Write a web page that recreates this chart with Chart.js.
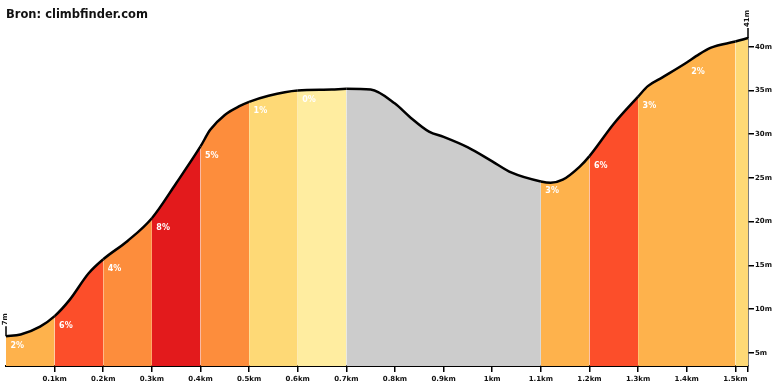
<!DOCTYPE html>
<html>
<head>
<meta charset="utf-8">
<script src="https://cdn.jsdelivr.net/npm/chart.js@4/dist/chart.umd.min.js"></script>
<style>
  html, body { margin: 0; padding: 0; background: #fff; }
  #wrap { width: 780px; height: 390px; }
</style>
</head>
<body>
<div id="wrap"><canvas id="profileChart"></canvas></div>
<script>
// distance (km) and elevation (m) along the climb
const distKm = [0, 0.03, 0.07, 0.1, 0.13, 0.17, 0.2, 0.25, 0.3, 0.35, 0.4, 0.42, 0.45, 0.48, 0.5, 0.54,
  0.6, 0.67, 0.7, 0.75, 0.8, 0.83, 0.87, 0.9, 0.95, 1.0, 1.04, 1.1, 1.12, 1.145, 1.18, 1.2, 1.25,
  1.3, 1.32, 1.35, 1.4, 1.42, 1.45, 1.5, 1.526];
const elevM = [6.9, 7.1, 8.0, 9.2, 11.0, 14.1, 15.7, 17.8, 20.4, 24.4, 28.6, 30.5, 32.2, 33.2, 33.7, 34.4,
  35.0, 35.1, 35.2, 35.1, 33.5, 32.0, 30.3, 29.7, 28.5, 26.9, 25.6, 24.6, 24.45, 24.8, 26.3, 27.5, 31.2,
  34.3, 35.5, 36.5, 38.2, 38.95, 39.9, 40.6, 41.0];

// 100 m sections and their gradient labels
const sectionStart = [0, 0.1, 0.2, 0.3, 0.4, 0.5, 0.6, 0.7, 0.8, 0.9, 1.0, 1.1, 1.2, 1.3, 1.4, 1.5];
const gradeLabels = ['2%', '6%', '4%', '8%', '5%', '1%', '0%', '', '', '', '', '3%', '6%', '3%', '2%', ''];

const xTickKm = [0.1, 0.2, 0.3, 0.4, 0.5, 0.6, 0.7, 0.8, 0.9, 1.0, 1.1, 1.2, 1.3, 1.4, 1.5];
const yTickM = [5, 10, 15, 20, 25, 30, 35, 40];

// colours of the sections
const sectionColors = ['#feb24c', '#fc4e2a', '#fd8d3c', '#e31a1c', '#fd8d3c', '#fed976', '#ffeda0',
  '#cccccc', '#cccccc', '#cccccc', '#cccccc', '#feb24c', '#fc4e2a', '#feb24c', '#feb24c', '#fed976'];

const smallFont = { family: 'DejaVu Sans', size: 7, weight: 'bold' };

function sectionIndex(x) {
  let idx = 0;
  for (let i = 0; i < sectionStart.length; i++) {
    if (x + 1e-9 >= sectionStart[i]) idx = i;
  }
  return idx;
}

// white gradient labels + start/end elevation markers
const profileLabels = {
  id: 'profileLabels',
  afterDatasetsDraw(chart) {
    const ctx = chart.ctx;
    const xs = chart.scales.x;
    const ys = chart.scales.y;

    ctx.save();
    ctx.fillStyle = '#fff';
    ctx.font = 'bold 8px "DejaVu Sans"';
    ctx.textAlign = 'left';
    ctx.textBaseline = 'middle';
    sectionStart.forEach((km, i) => {
      if (!gradeLabels[i]) return;
      const j = distKm.indexOf(km);
      const px = xs.getPixelForValue(km) + 4.5;
      const py = ys.getPixelForValue(elevM[j]) + 9.5;
      ctx.fillText(gradeLabels[i], px, py);
    });

    [0, distKm.length - 1].forEach(j => {
      const px = xs.getPixelForValue(distKm[j]);
      const py = ys.getPixelForValue(elevM[j]);
      ctx.strokeStyle = '#000';
      ctx.lineWidth = 1.5;
      ctx.beginPath();
      ctx.moveTo(px, py);
      ctx.lineTo(px, py - 10);
      ctx.stroke();
      ctx.save();
      ctx.translate(px - 1, py - 11);
      ctx.rotate(-Math.PI / 2);
      ctx.fillStyle = '#111';
      ctx.font = 'bold 7px "DejaVu Sans"';
      ctx.textAlign = 'left';
      ctx.textBaseline = 'middle';
      ctx.fillText(Math.round(elevM[j]) + 'm', 0, 0);
      ctx.restore();
    });
    ctx.restore();
  }
};

function createChart() {
  const points = distKm.map((d, i) => ({ x: d, y: elevM[i] }));
  const xMax = distKm[distKm.length - 1];

  const ctx = document.getElementById('profileChart').getContext('2d');
  new Chart(ctx, {
    type: 'line',
    data: {
      datasets: [{
        data: points,
        borderColor: '#000',
        borderWidth: 2.5,
        borderJoinStyle: 'round',
        pointRadius: 0,
        cubicInterpolationMode: 'monotone',
        fill: 'start',
        clip: 8,
        segment: {
          backgroundColor: c => sectionColors[sectionIndex(c.p0.parsed.x)]
        }
      }]
    },
    options: {
      responsive: true,
      maintainAspectRatio: false,
      animation: false,
      layout: { padding: { left: 6, right: 0, top: 0, bottom: 0 } },
      scales: {
        x: {
          type: 'linear',
          min: 0,
          max: xMax,
          afterBuildTicks: s => { s.ticks = xTickKm.concat([xMax]).map(v => ({ value: v })); },
          afterFit: s => { s.height = 24; },
          grid: { drawOnChartArea: false, drawTicks: true, tickLength: 6, color: '#000', lineWidth: 1.5 },
          border: { display: true, color: '#000', width: 2 },
          ticks: {
            autoSkip: false,
            maxRotation: 0,
            padding: 3,
            color: '#111',
            font: smallFont,
            callback: v => (xTickKm.includes(v) ? Number(v.toFixed(1)) + 'km' : '')
          }
        },
        y: {
          position: 'right',
          min: 3.5,
          max: 41,
          afterBuildTicks: s => { s.ticks = yTickM.map(v => ({ value: v })); },
          afterFit: s => { s.width = 32; },
          grid: { drawOnChartArea: false, drawTicks: true, tickLength: 6, color: '#000', lineWidth: 1.5 },
          border: { display: true, color: '#000', width: 1.5 },
          ticks: {
            padding: 1,
            color: '#111',
            font: smallFont,
            callback: v => v + 'm'
          }
        }
      },
      plugins: {
        legend: { display: false },
        tooltip: { enabled: false },
        title: {
          display: true,
          text: 'Bron: climbfinder.com',
          align: 'start',
          color: '#111',
          font: { family: 'DejaVu Sans', size: 11.5, weight: 'bold' },
          padding: { top: 8, bottom: 16.2 }
        }
      }
    },
    plugins: [profileLabels]
  });
}

window.onload = createChart;
</script>
</body>
</html>
